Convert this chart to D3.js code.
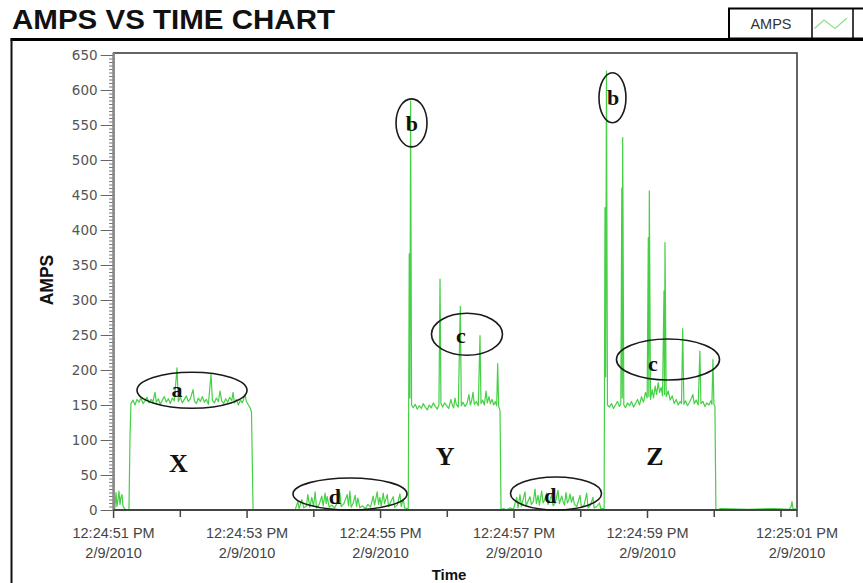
<!DOCTYPE html>
<html><head><meta charset="utf-8">
<script src="https://cdn.jsdelivr.net/npm/d3@7"></script>
<style>body{margin:0;background:#fff}</style>
</head><body>
<svg id="chart" width="863" height="583"></svg>
<script>
// ---------- DATA ----------
const chartTitle = "AMPS VS TIME CHART";
const seriesName = "AMPS";
const yAxisTitle = "AMPS";
const xAxisTitle = "Time";
const yTickValues = [0,50,100,150,200,250,300,350,400,450,500,550,600,650];
// seconds after 12:24:51 PM
const xTickSeconds = [0,2,4,6,8,10.24];
const xTickTimeLabels = ["12:24:51 PM","12:24:53 PM","12:24:55 PM","12:24:57 PM","12:24:59 PM","12:25:01 PM"];
const xTickDateLabels = ["2/9/2010","2/9/2010","2/9/2010","2/9/2010","2/9/2010","2/9/2010"];
const xMinorSeconds = [1,3,5,7,9,10];
const xDomainEnd = 10.24;

// [seconds, amps]
const segStartBurst = [[0.00,0],[0.02,3],[0.036,25],[0.05,5],[0.065,14],[0.08,27],[0.096,8],[0.11,18],[0.126,22],[0.14,6],[0.156,3],[0.186,0],[0.23,0]];
const segPlateauX = [[0.246,105],[0.26,152],[0.29,157],[0.32,150],[0.35,158],[0.38,154],[0.41,160],[0.44,152],[0.47,156],[0.50,161],[0.53,153],[0.56,158],[0.59,155],[0.62,168],[0.64,154],[0.67,159],[0.70,151],[0.73,157],[0.76,162],[0.79,154],[0.82,159],[0.85,152],[0.88,160],[0.91,156],[0.95,203],[0.97,155],[1.00,161],[1.03,153],[1.06,158],[1.09,163],[1.12,155],[1.15,159],[1.19,172],[1.21,156],[1.24,152],[1.27,160],[1.30,155],[1.33,162],[1.36,154],[1.39,158],[1.42,151],[1.46,194],[1.48,157],[1.51,153],[1.54,160],[1.57,155],[1.595,170],[1.62,156],[1.65,152],[1.68,159],[1.71,154],[1.74,161],[1.77,156],[1.79,168],[1.81,153],[1.84,158],[1.87,150],[1.90,157],[1.93,153],[1.97,165],[1.99,155],[2.02,150],[2.045,146],[2.066,140],[2.09,0]];
const segIdleD1 = [[2.40,0],[2.72,0],[2.76,12],[2.78,2],[2.82,15],[2.85,3],[2.89,6],[2.91,22],[2.94,4],[2.97,18],[2.995,5],[3.02,26],[3.04,3],[3.08,8],[3.12,20],[3.14,6],[3.17,24],[3.185,9],[3.20,19],[3.23,4],[3.27,7],[3.31,3],[3.35,10],[3.39,25],[3.41,5],[3.45,9],[3.50,22],[3.52,6],[3.54,27],[3.56,4],[3.59,10],[3.62,21],[3.64,5],[3.66,17],[3.69,3],[3.73,6],[3.77,2],[3.81,8],[3.85,4],[3.89,20],[3.91,7],[3.95,26],[3.97,8],[3.99,18],[4.01,6],[4.04,24],[4.06,9],[4.10,22],[4.12,5],[4.15,11],[4.19,19],[4.21,4],[4.25,7],[4.29,23],[4.31,5],[4.34,16],[4.36,3],[4.40,2]];
const segY = [[4.415,2],[4.43,366],[4.44,160],[4.45,584],[4.465,150],[4.49,146],[4.52,151],[4.55,144],[4.58,149],[4.61,145],[4.64,152],[4.67,147],[4.70,143],[4.73,150],[4.76,146],[4.79,153],[4.82,148],[4.85,144],[4.875,150],[4.891,330],[4.905,152],[4.93,147],[4.96,153],[4.99,149],[5.02,145],[5.055,158],[5.075,150],[5.095,146],[5.115,160],[5.135,151],[5.165,147],[5.195,291],[5.21,149],[5.235,154],[5.265,148],[5.295,152],[5.325,165],[5.345,150],[5.365,156],[5.385,168],[5.405,151],[5.435,155],[5.465,149],[5.49,249],[5.505,152],[5.53,157],[5.555,150],[5.58,170],[5.60,153],[5.625,162],[5.645,152],[5.67,158],[5.695,150],[5.72,155],[5.74,149],[5.755,209],[5.77,148],[5.79,142],[5.805,0]];
const segD2 = [[5.84,2],[5.89,0],[5.94,3],[5.99,1],[6.04,18],[6.06,3],[6.089,22],[6.11,5],[6.164,26],[6.18,6],[6.239,19],[6.26,8],[6.29,12],[6.314,30],[6.335,9],[6.359,21],[6.38,7],[6.414,27],[6.435,10],[6.46,15],[6.489,24],[6.51,8],[6.535,13],[6.564,22],[6.585,6],[6.62,11],[6.659,28],[6.68,9],[6.714,20],[6.735,12],[6.755,7],[6.779,25],[6.80,10],[6.82,14],[6.839,23],[6.86,11],[6.884,19],[6.905,8],[6.94,5],[6.989,21],[7.01,4],[7.05,7],[7.089,24],[7.11,3],[7.14,6],[7.183,18],[7.20,3],[7.24,5],[7.28,10],[7.30,2],[7.35,2]];
const segZ = [[7.363,432],[7.373,190],[7.385,627],[7.40,150],[7.43,147],[7.46,152],[7.49,145],[7.52,150],[7.55,155],[7.58,148],[7.60,152],[7.615,460],[7.622,160],[7.628,532],[7.645,150],[7.67,146],[7.70,153],[7.73,149],[7.76,155],[7.79,147],[7.82,152],[7.85,158],[7.88,150],[7.91,162],[7.94,154],[7.97,168],[7.995,160],[8.012,389],[8.02,162],[8.027,456],[8.045,158],[8.07,172],[8.09,160],[8.115,177],[8.135,165],[8.16,182],[8.18,168],[8.205,175],[8.225,163],[8.247,313],[8.255,165],[8.262,382],[8.28,162],[8.31,170],[8.34,157],[8.37,163],[8.40,152],[8.43,158],[8.46,150],[8.49,155],[8.51,152],[8.527,259],[8.545,151],[8.57,156],[8.60,149],[8.63,154],[8.66,160],[8.68,165],[8.70,152],[8.73,157],[8.76,150],[8.785,227],[8.80,152],[8.83,155],[8.86,148],[8.89,153],[8.92,150],[8.95,156],[8.965,151],[8.98,215],[8.995,151],[9.01,148],[9.025,0]];
const segEnd = [[9.10,2],[9.5,1],[9.9,2],[10.12,1],[10.15,4],[10.165,12],[10.18,2],[10.24,1]];

// annotation ellipses in data units: [centre s, centre amps, radius s, radius amps]
const annotEllipses = [[1.175,171,0.824,25.7],[4.464,553,0.232,34.3],[5.295,251,0.532,30],[7.475,589,0.202,35.7],[8.307,215,0.772,29.3],[3.542,22.9,0.854,22.9],[6.629,23.6,0.682,23.6]];
// annotation letters: [text, centre s, baseline amps, big?]
const annotLabels = [["a",0.95,162,0],["X",0.97,53.6,1],["b",4.47,542,0],["c",5.205,238.6,0],["Y",4.966,64.3,1],["b",7.485,578.6,0],["c",8.08,198.6,0],["Z",8.11,64.3,1],["d",3.317,8.6,0],["d",6.546,10,0]];

// ---------- DRAW ----------
const data = [].concat(segStartBurst, segPlateauX, segIdleD1, segY, segD2, segZ, segEnd);
const svg = d3.select("#chart");
svg.append("rect").attr("width",863).attr("height",583).attr("fill","#fff");

const pLeft = 113.6, pRight = 797, pTop = 53, pBottom = 510;
const x = d3.scaleLinear().domain([0, xDomainEnd]).range([pLeft, pRight]);
const y = d3.scaleLinear().domain([0, 650]).range([pBottom, 55]);

// outer frame
svg.append("line").attr("x1",10.5).attr("x2",863).attr("y1",39.5).attr("y2",39.5).attr("stroke","#000").attr("stroke-width",3);
svg.append("line").attr("x1",11.5).attr("x2",11.5).attr("y1",39).attr("y2",583).attr("stroke","#111").attr("stroke-width",2);

// title
svg.append("text").attr("x",12).attr("y",28.5).text(chartTitle)
  .attr("font-family","'Liberation Sans Narrow','Arial Narrow','Liberation Sans',Arial,sans-serif")
  .attr("font-weight","bold").attr("font-size",27).attr("fill","#111")
  .attr("textLength",323).attr("lengthAdjust","spacingAndGlyphs");

// legend
const lg = svg.append("g");
lg.append("rect").attr("x",729).attr("y",8.5).attr("width",150).attr("height",30).attr("fill","#fff").attr("stroke","#000").attr("stroke-width",2);
lg.append("line").attr("x1",812).attr("x2",812).attr("y1",8.5).attr("y2",38.5).attr("stroke","#000").attr("stroke-width",1.5);
lg.append("line").attr("x1",853).attr("x2",853).attr("y1",8.5).attr("y2",38.5).attr("stroke","#000").attr("stroke-width",1.5);
lg.append("text").attr("x",771).attr("y",28.5).attr("text-anchor","middle").text(seriesName)
  .attr("font-family","'Liberation Sans',Arial,sans-serif").attr("font-size",14.5).attr("fill","#333");
lg.append("polyline").attr("points","814.5,28.5 824,20 835,28.5 847,18").attr("fill","none").attr("stroke","#8fdf8f").attr("stroke-width",1.3);

// plot frame
svg.append("rect").attr("x",pLeft).attr("y",pTop).attr("width",pRight-pLeft).attr("height",pBottom-pTop)
  .attr("fill","none").attr("stroke","#333").attr("stroke-width",1.5);

// data line
svg.append("path").datum(data)
  .attr("d", d3.line().x(d=>x(d[0])).y(d=>y(d[1])))
  .attr("fill","none").attr("stroke","#45d045").attr("stroke-width",1.2).attr("stroke-linejoin","round");

// y axis
const yMinor = svg.append("g").attr("transform",`translate(${pLeft},0)`)
  .call(d3.axisLeft(y).tickValues(d3.range(0,651,5)).tickSize(4.5).tickFormat(""));
yMinor.select(".domain").remove();
yMinor.selectAll("line").attr("stroke","#777");
const yMajor = svg.append("g").attr("transform",`translate(${pLeft},0)`)
  .call(d3.axisLeft(y).tickValues(yTickValues).tickSize(13).tickPadding(3));
yMajor.select(".domain").remove();
yMajor.selectAll("line").attr("stroke","#666");
yMajor.selectAll("text").attr("font-family","'DejaVu Sans',Verdana,sans-serif").attr("font-size",13.5).attr("fill","#555");
svg.append("line").attr("x1",pLeft).attr("x2",pLeft).attr("y1",pTop).attr("y2",pBottom+1).attr("stroke","#8a8a8a").attr("stroke-width",2.5);

// x axis
svg.append("line").attr("x1",pLeft).attr("x2",pRight).attr("y1",pBottom).attr("y2",pBottom).attr("stroke","#444").attr("stroke-width",2);
const xt = svg.append("g");
xt.selectAll("line.maj").data(xTickSeconds.slice(0,5)).join("line").attr("class","maj")
  .attr("x1",d=>x(d)).attr("x2",d=>x(d)).attr("y1",pBottom).attr("y2",pBottom+8).attr("stroke","#444").attr("stroke-width",1.5);
xt.selectAll("line.min").data(xMinorSeconds.concat([xDomainEnd])).join("line").attr("class","min")
  .attr("x1",d=>x(d)).attr("x2",d=>x(d)).attr("y1",pBottom).attr("y2",pBottom+7).attr("stroke","#444").attr("stroke-width",1.5);
xTickSeconds.forEach((s,i)=>{
  const g = svg.append("g").attr("font-family","'Liberation Sans',Arial,sans-serif").attr("font-size",14.5).attr("fill","#444").attr("text-anchor","middle");
  g.append("text").attr("x",x(s)).attr("y",538).text(xTickTimeLabels[i]);
  g.append("text").attr("x",x(s)).attr("y",558).text(xTickDateLabels[i]);
});

// axis titles
svg.append("text").attr("transform",`translate(52.5,280) rotate(-90)`).attr("text-anchor","middle").text(yAxisTitle)
  .attr("font-family","'Liberation Sans',Arial,sans-serif").attr("font-weight","bold").attr("font-size",17.5).attr("fill","#111");
svg.append("text").attr("x",449).attr("y",580).attr("text-anchor","middle").text(xAxisTitle)
  .attr("font-family","'Liberation Sans',Arial,sans-serif").attr("font-weight","bold").attr("font-size",15).attr("fill","#111");

// annotations
const x0 = x(0), y0 = y(0);
svg.selectAll("ellipse.ann").data(annotEllipses).join("ellipse").attr("class","ann")
  .attr("cx",d=>x(d[0])).attr("cy",d=>y(d[1]))
  .attr("rx",d=>x(d[2])-x0).attr("ry",d=>y0-y(d[3]))
  .attr("fill","none").attr("stroke","#1a1a1a").attr("stroke-width",1.6);
svg.selectAll("text.ann").data(annotLabels).join("text").attr("class","ann")
  .attr("x",d=>x(d[1])).attr("y",d=>y(d[2])).attr("text-anchor","middle").text(d=>d[0])
  .attr("font-family","'Liberation Serif','Times New Roman',serif").attr("font-weight","bold")
  .attr("font-size",d=>d[3]?26:22).attr("fill","#111");
</script>
</body></html>
